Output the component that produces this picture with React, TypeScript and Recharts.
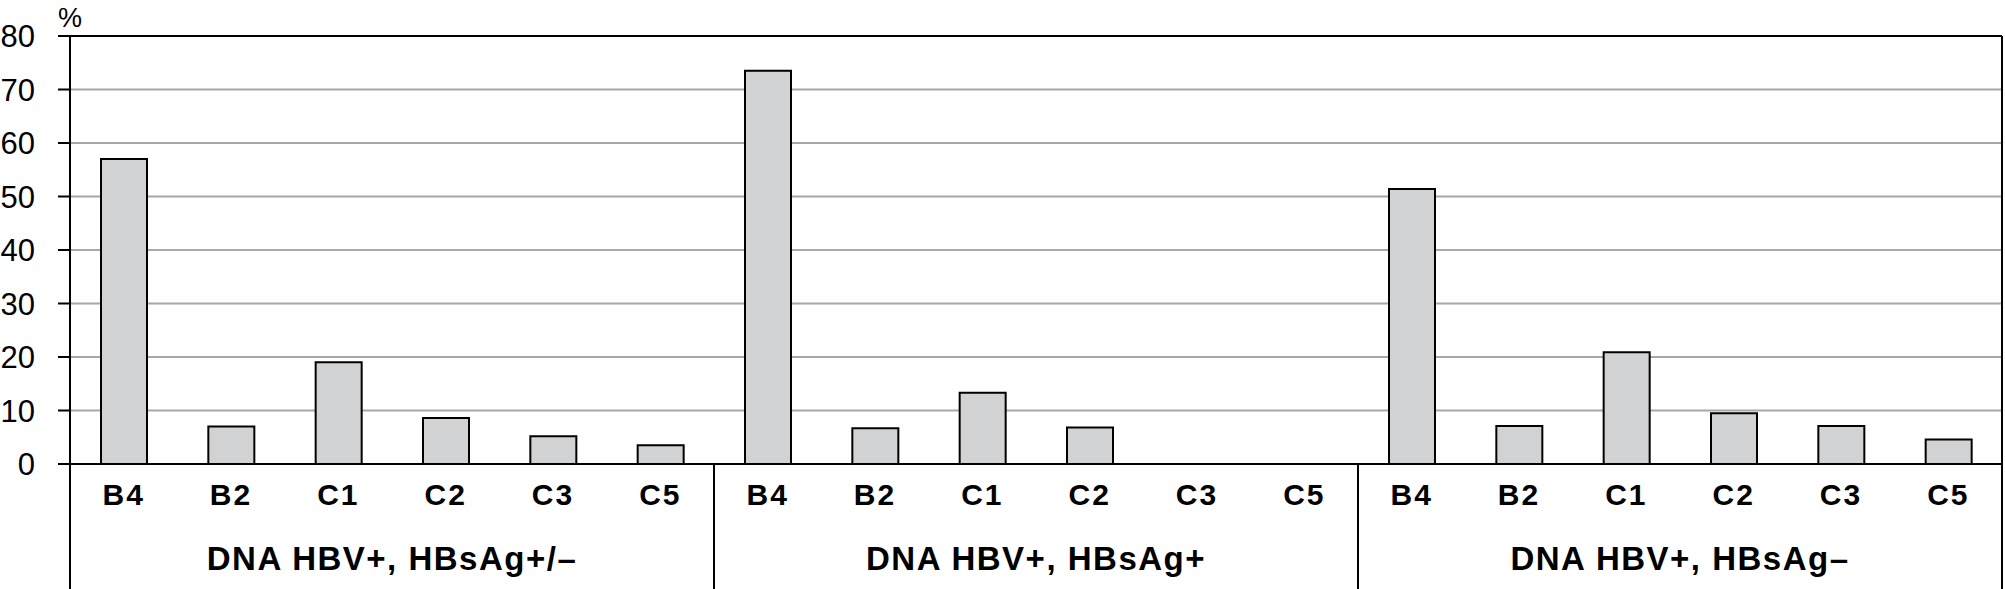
import React from 'react';
import { BarChart, Bar, XAxis, YAxis, CartesianGrid, ReferenceLine } from 'recharts';

const genotypes = ['B4', 'B2', 'C1', 'C2', 'C3', 'C5'];
const groups = ['DNA HBV+, HBsAg+/–', 'DNA HBV+, HBsAg+', 'DNA HBV+, HBsAg–'];
const mixedValues = [57, 7, 19, 8.6, 5.2, 3.5];
const positiveValues = [73.5, 6.7, 13.3, 6.8, 0, 0];
const negativeValues = [51.4, 7.1, 20.9, 9.5, 7.1, 4.6];
const yTicks = [0, 10, 20, 30, 40, 50, 60, 70, 80];

const groupValues = [mixedValues, positiveValues, negativeValues];

const data = groups.flatMap((group, g) =>
  genotypes.map((genotype, i) => ({
    key: `${g}|${genotype}`,
    genotype,
    group,
    value: groupValues[g][i],
  }))
);

const WIDTH = 2005;
const HEIGHT = 589;
const Y_AXIS_W = 70;
const RIGHT_W = 3;
const X_AXIS_H = 125;
const BAND = (WIDTH - Y_AXIS_W - RIGHT_W) / data.length;
const FONT = '"Liberation Sans", Arial, Helvetica, sans-serif';

const CategoryTick = (props: any) => {
  const { x, y, index } = props;
  const row = data[index];
  if (!row) return null;
  const half = BAND / 2;
  const perGroup = genotypes.length;
  return (
    <g>
      <text
        x={x}
        y={y + 41}
        textAnchor="middle"
        fontFamily={FONT}
        fontWeight={700}
        fontSize={30}
        letterSpacing={2}
        fill="#000"
      >
        {row.genotype}
      </text>
      {index % perGroup === 0 && (
        <line x1={x - half} x2={x - half} y1={y} y2={HEIGHT} stroke="#000" strokeWidth={2} />
      )}
      {index === data.length - 1 && (
        <line x1={x + half} x2={x + half} y1={y} y2={HEIGHT} stroke="#000" strokeWidth={2} />
      )}
      {index % perGroup === perGroup / 2 && (
        <text
          x={x - half}
          y={y + 106}
          textAnchor="middle"
          fontFamily={FONT}
          fontWeight={700}
          fontSize={33}
          letterSpacing={1.5}
          fill="#000"
        >
          {row.group}
        </text>
      )}
    </g>
  );
};

const PercentLabel = (props: any) => {
  const vb = props.viewBox || { x: 0, y: 36, width: Y_AXIS_W };
  return (
    <text x={vb.x + vb.width} y={vb.y - 9} textAnchor="middle" fontFamily={FONT} fontSize={27} fill="#000">
      %
    </text>
  );
};

export default function App() {
  return (
    <div style={{ position: 'absolute', left: 0, top: 0, background: '#fff' }}>
      <BarChart
        width={WIDTH}
        height={HEIGHT}
        data={data}
        margin={{ top: 36, right: 0, left: 0, bottom: 0 }}
        barSize={46}
      >
        <CartesianGrid yAxisId="l" vertical={false} stroke="#a8a8a8" strokeWidth={2} />
        <XAxis
          dataKey="key"
          height={X_AXIS_H}
          interval={0}
          tickSize={0}
          tickMargin={0}
          tickLine={false}
          axisLine={{ stroke: '#000', strokeWidth: 2 }}
          tick={<CategoryTick />}
        />
        <YAxis
          yAxisId="l"
          width={Y_AXIS_W}
          domain={[0, 80]}
          ticks={yTicks}
          interval={0}
          tickSize={12}
          tickMargin={23}
          axisLine={{ stroke: '#000', strokeWidth: 2 }}
          tickLine={{ stroke: '#000', strokeWidth: 2 }}
          tick={{ fontFamily: FONT, fontSize: 31, fill: '#000' }}
          label={<PercentLabel />}
        />
        <YAxis
          yAxisId="r"
          orientation="right"
          width={RIGHT_W}
          domain={[0, 80]}
          tick={false}
          tickLine={false}
          axisLine={{ stroke: '#000', strokeWidth: 2 }}
        />
        <ReferenceLine yAxisId="l" y={80} stroke="#000" strokeWidth={2} />
        <Bar
          yAxisId="l"
          dataKey="value"
          fill="#d1d2d4"
          stroke="#000"
          strokeWidth={2}
          isAnimationActive={false}
        />
      </BarChart>
    </div>
  );
}
